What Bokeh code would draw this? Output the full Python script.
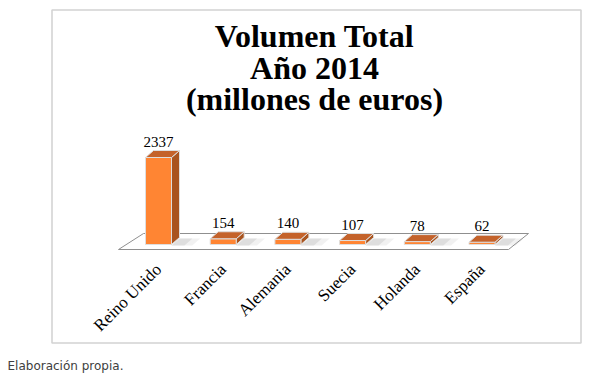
import math
import numpy as np
from bokeh.plotting import figure
from bokeh.models import Range1d, LinearAxis, FixedTicker, BoxAnnotation
from bokeh.core.properties import value
from bokeh.embed import file_html
from bokeh.resources import INLINE

# ---- data ----
countries = ["Reino Unido", "Francia", "Alemania", "Suecia", "Holanda", "España"]
volumes = [2337, 154, 140, 107, 78, 62]
title_lines = ["Volumen Total", "Año 2014", "(millones de euros)"]
footer = "Elaboración propia."

# ---- layout constants ----
W, H = 593, 374
PX_PER_CAT = 64.7          # pixels between categories
FIRST_CAT_PX = 158         # px of first category
ZERO_PX = 244              # px (from top) of value 0
UNITS_PER_PX = 2337 / 87.0

x_start = -FIRST_CAT_PX / PX_PER_CAT
x_end = x_start + W / PX_PER_CAT
y_end = ZERO_PX * UNITS_PER_PX
y_start = y_end - H * UNITS_PER_PX


def fx(px):
    return x_start + px / PX_PER_CAT


def fy(py):
    return y_end - py * UNITS_PER_PX


p = figure(width=W, height=H, x_range=Range1d(x_start, x_end), y_range=Range1d(y_start, y_end),
           x_axis_type=None, y_axis_type=None, toolbar_location=None, output_backend="svg",
           min_border=0, outline_line_color=None, title=None,
           background_fill_color="white", border_fill_color="white")
p.grid.visible = False

idx = np.arange(len(countries))
vals = np.array(volumes, dtype=float)
half = 13 / PX_PER_CAT
ddx = 8 / PX_PER_CAT
ddy = 7 * UNITS_PER_PX

# floor
p.patch(x=[fx(118), fx(508), fx(528), fx(143)], y=[fy(249), fy(249), fy(233), fy(233)],
        fill_color="white", line_color="#8f8f8f", line_width=1)

# soft shadows on the floor, right of each bar
for a, ext in ((0.12, 0.32), (0.18, 0.2)):
    p.patches(xs=[[i + half, i + half + ext, i + half + ext + ddx, i + half + ddx] for i in idx],
              ys=[[fy(245), fy(245), fy(238), fy(238)] for _ in idx],
              fill_color="#8a8a8a", fill_alpha=a, line_color=None)

# bar faces
front_color = "#FF8533"
side_color = "#A9541F"
top_color = "#C4622A"
edge = "#dedede"

p.patches(xs=[[i + half, i + half + ddx, i + half + ddx, i + half] for i in idx],
          ys=[[0, ddy, v + ddy, v] for v in vals],
          fill_color=side_color, line_color=edge, line_width=1)
p.quad(left=idx - half, right=idx + half, bottom=0, top=vals,
       fill_color=front_color, line_color=edge, line_width=1)
p.patches(xs=[[i - half, i + half, i + half + ddx, i - half + ddx] for i in idx],
          ys=[[v, v, v + ddy, v + ddy] for v in vals],
          fill_color=top_color, line_color=edge, line_width=1)

# value labels
p.text(x=idx, y=vals, text=[str(v) for v in volumes], text_align="center",
       text_baseline="middle", y_offset=-16, text_font=value("Liberation Serif"),
       text_font_size="15px", text_color="black")

# category axis inside the frame
xaxis = LinearAxis(ticker=FixedTicker(ticks=[int(i) for i in idx], minor_ticks=[]),
                   major_label_overrides={int(i): c for i, c in zip(idx, countries)},
                   fixed_location=fy(256),
                   axis_line_color=None, major_tick_line_color=None, minor_tick_line_color=None,
                   major_label_orientation=math.pi / 4,
                   major_label_text_font="Liberation Serif",
                   major_label_text_font_size="17px",
                   major_label_text_color="black",
                   major_label_standoff=4)
p.add_layout(xaxis, "below")

# title (three lines)
p.text(x=[fx(314)] * 3, y=[fy(35), fy(67), fy(98)], text=title_lines,
       text_align="center", text_baseline="middle",
       text_font=value("Liberation Serif"), text_font_style="bold",
       text_font_size="32px", text_color="black")

# chart border
p.add_layout(BoxAnnotation(left=fx(51.5), right=fx(580.5), top=fy(9.5), bottom=fy(342.5),
                           fill_color=None, fill_alpha=0, line_color="#6e6e6e", line_width=1.6))

# footer
p.text(x=[fx(7)], y=[fy(365)], text=[footer], text_align="left", text_baseline="middle",
       text_font=value("DejaVu Sans"), text_font_size="12px", text_color="#404040")

open("out.html", "w").write(file_html(p, INLINE))
